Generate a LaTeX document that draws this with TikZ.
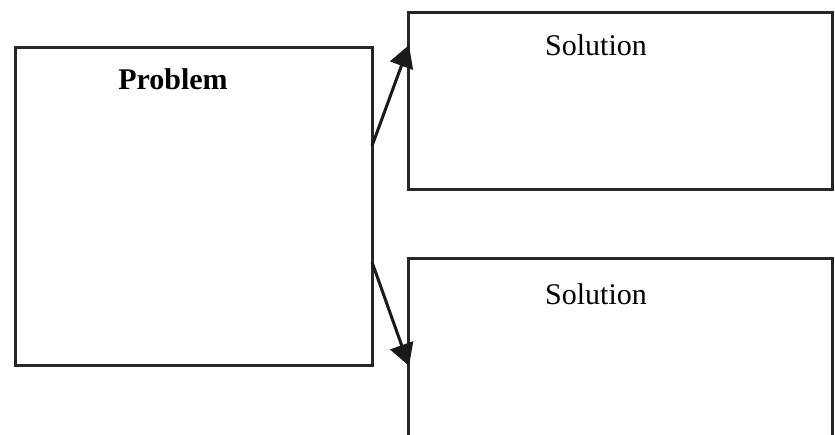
\documentclass[tikz,border=0pt]{standalone}
\usepackage{fontspec}
\setmainfont{Liberation Serif}
\usetikzlibrary{arrows.meta}
\begin{document}
\begin{tikzpicture}[x=1pt,y=-1pt,
  box/.style={draw=black!85, line width=3pt, fill=white, inner sep=0pt},
  lbl/.style={font=\fontsize{30}{36}\selectfont, inner sep=0pt, anchor=base},
  conn/.style={draw=black!90, line width=3pt, -{Triangle[length=22pt,width=24pt]}}]
\useasboundingbox (0,0) rectangle (835,434);
\clip (0,0) rectangle (835,434);
\fill[white] (0,0) rectangle (835,434);
\node[box, minimum width=357pt, minimum height=318pt] (prob) at (193.5,206.5) {};
\node[box, minimum width=424pt, minimum height=177pt] (sol1) at (620,100.5) {};
\node[box, minimum width=424pt, minimum height=200pt] (sol2) at (620,358) {};
\node[lbl, font=\fontsize{30}{36}\selectfont\bfseries] (tp) at (173,89) {Problem};
\node[lbl] (ts1) at (596,55) {Solution};
\node[lbl] (ts2) at (596,304) {Solution};
\coordinate (p1) at (372,146);
\coordinate (p2) at (372,262);
\coordinate (e1) at (409,45);
\coordinate (e2) at (409,366);
\draw[conn] (p1) -- (e1);
\draw[conn] (p2) -- (e2);
\end{tikzpicture}
\end{document}
